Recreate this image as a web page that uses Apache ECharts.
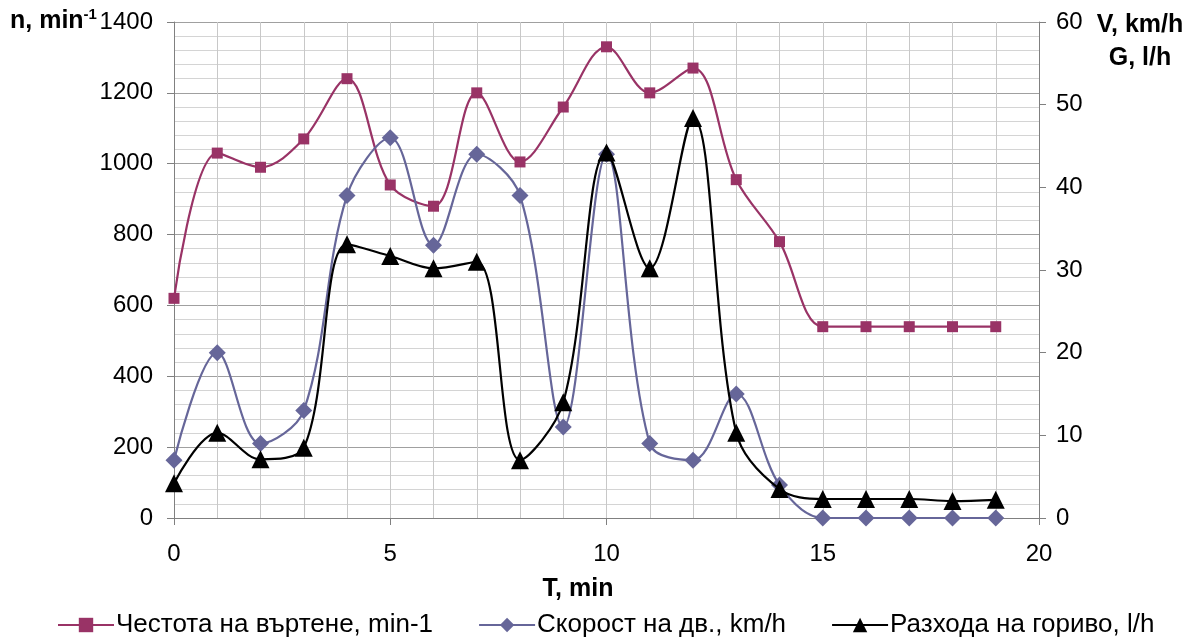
<!DOCTYPE html>
<html>
<head>
<meta charset="utf-8">
<script src="https://cdn.jsdelivr.net/npm/echarts@6/dist/echarts.min.js"></script>
<style>html,body{margin:0;padding:0;background:#fff;}#c{width:1197px;height:642px;}</style>
</head>
<body>
<div id="c"></div>
<script>
const tValues = [0,1,2,3,4,5,6,7,8,9,10,11,12,13,14,15,16,17,18,19];
const rpm = [620,1030,990,1070,1240,940,880,1200,1005,1160,1330,1200,1270,955,780,540,540,540,540,540];
const speed = [7,20,9,13,39,46,33,44,39,11,44,9,7,15,4,0,0,0,0,0];
const fuel = [4.2,10.3,7.1,8.5,33.1,31.7,30.2,31.0,7.0,14.0,44.2,30.2,48.4,10.3,3.5,2.3,2.3,2.3,2.05,2.2];
const seriesNames = ['Честота на въртене, min-1','Скорост на дв., km/h','Разхода на гориво, l/h'];

const FONT = '"Liberation Sans", Arial, sans-serif';
const pairs = arr => arr.map((v,i)=>[tValues[i], v]);

const chart = echarts.init(document.getElementById('c'), null, {renderer:'canvas'});
chart.setOption({
  animation:false,
  backgroundColor:'#fff',
  textStyle:{fontFamily:FONT},
  grid:{left:174, right:158, top:22, bottom:124, containLabel:false},
  legend:{
    data:seriesNames, top:607, left:52, itemWidth:56, itemHeight:18, itemGap:45,
    textStyle:{fontSize:26, color:'#000', fontFamily:FONT, padding:[0,0,0,-3]}
  },
  xAxis:{
    type:'value', min:0, max:20, interval:5,
    axisLine:{show:true, onZero:false, lineStyle:{color:'#808080', width:1}},
    axisTick:{show:true, length:7, lineStyle:{color:'#808080'}},
    axisLabel:{fontSize:24, color:'#000', margin:24, fontFamily:FONT},
    splitLine:{show:true, lineStyle:{color:'#c8c8c8', width:1}},
    minorTick:{show:false, splitNumber:5},
    minorSplitLine:{show:true, lineStyle:{color:'#c8c8c8', width:1}}
  },
  yAxis:[{
    type:'value', min:0, max:1400, interval:200, position:'left',
    axisLine:{show:true, lineStyle:{color:'#808080'}},
    axisTick:{show:true, length:7, lineStyle:{color:'#808080'}},
    axisLabel:{fontSize:24, color:'#000', margin:21, fontFamily:FONT, formatter:v=>String(v)},
    splitLine:{show:true, lineStyle:{color:'#a0a0a0', width:1}},
    minorTick:{show:false, splitNumber:5},
    minorSplitLine:{show:true, lineStyle:{color:'#d4d4d4', width:1}}
  },{
    type:'value', min:0, max:60, interval:10, position:'right',
    axisLine:{show:true, lineStyle:{color:'#808080'}},
    axisTick:{show:true, length:7, lineStyle:{color:'#808080'}},
    axisLabel:{fontSize:24, color:'#000', margin:17, fontFamily:FONT, formatter:v=>String(v)},
    splitLine:{show:false}
  }],
  series:[{
    name:seriesNames[0], type:'line', yAxisIndex:0, data:pairs(rpm), smooth:0.35,
    symbol:'rect', symbolSize:11, lineStyle:{color:'#993366', width:2.2},
    itemStyle:{color:'#993366'}, color:'#993366', z:3
  },{
    name:seriesNames[1], type:'line', yAxisIndex:1, data:pairs(speed), smooth:0.35,
    symbol:'diamond', symbolSize:17, lineStyle:{color:'#666699', width:2.2},
    itemStyle:{color:'#666699'}, color:'#666699', z:4
  },{
    name:seriesNames[2], type:'line', yAxisIndex:1, data:pairs(fuel), smooth:0.35,
    symbol:'triangle', symbolSize:18, lineStyle:{color:'#000', width:2.2},
    itemStyle:{color:'#000'}, color:'#000', z:5
  }],
  graphic:[{
    type:'text', left:10, top:7,
    style:{
      text:'{a|n, min}{s|-1}', fontFamily:FONT,
      rich:{
        a:{fontSize:25, fontWeight:'bold', fill:'#000', fontFamily:FONT, verticalAlign:'bottom'},
        s:{fontSize:15, fontWeight:'bold', fill:'#000', fontFamily:FONT, verticalAlign:'top', padding:[0,0,12,0]}
      }
    }
  },{
    type:'text', x:1140, y:25,
    style:{text:'V, km/h', fontSize:25, fontWeight:'bold', fill:'#000', fontFamily:FONT, align:'center', verticalAlign:'middle'}
  },{
    type:'text', x:1140, y:58,
    style:{text:'G, l/h', fontSize:25, fontWeight:'bold', fill:'#000', fontFamily:FONT, align:'center', verticalAlign:'middle'}
  },{
    type:'text', x:578, y:589,
    style:{text:'T, min', fontSize:25, fontWeight:'bold', fill:'#000', fontFamily:FONT, align:'center', verticalAlign:'middle'}
  }]
});
</script>
</body>
</html>
